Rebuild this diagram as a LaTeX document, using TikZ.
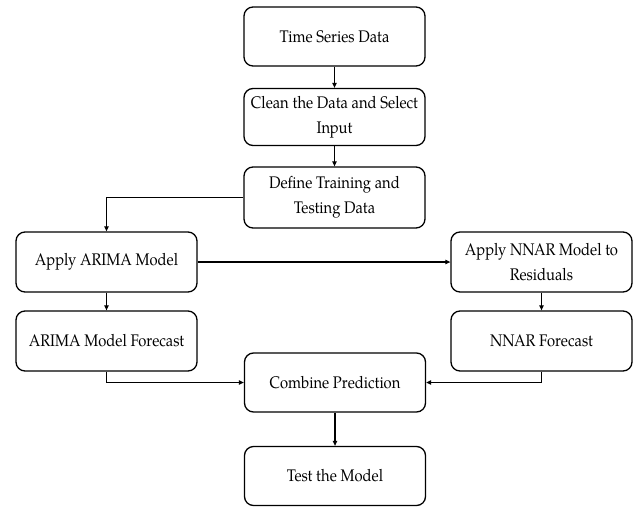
\documentclass[tikz,border=0pt]{standalone}
\usepackage{fontspec}
\setmainfont{TeX Gyre Pagella}
\usetikzlibrary{arrows.meta}
\tikzset{
  box/.style={draw, line width=1.3pt, rounded corners=9pt, minimum width=181pt, minimum height=59pt, align=center, inner sep=2pt, font=\fontsize{16.8}{25}\selectfont},
  conn/.style={line width=1.1pt, -{Triangle[length=5pt,width=4.5pt]}}
}
\newcommand{\sq}[1]{\scalebox{0.88}[1]{#1}}
\begin{document}
\begin{tikzpicture}[x=1pt,y=-1pt]
\useasboundingbox (0,0) rectangle (638,507);
\node[box] (ts) at (334.5,36.5) {\sq{Time Series Data}};
\node[box, minimum height=57pt] (clean) at (334.5,117) {\sq{Clean the Data and Select}\\\sq{Input}};
\node[box, minimum height=61pt] (def) at (334.5,197.5) {\sq{Define Training and}\\\sq{Testing Data}};
\node[box, minimum height=60pt] (arima) at (106.5,262) {\sq{Apply ARIMA Model}};
\node[box, minimum height=60pt] (nnar) at (541.5,262) {\sq{Apply NNAR Model to}\\\sq{Residuals}};
\node[box, minimum height=60pt] (arimaf) at (106.5,341) {\sq{ARIMA Model Forecast}};
\node[box, minimum height=60pt] (nnarf) at (541.5,341) {\sq{NNAR Forecast}};
\node[box] (comb) at (335,382.5) {\sq{Combine Prediction}};
\node[box] (test) at (335,476) {\sq{Test the Model}};
\draw[conn] (ts) -- (clean);
\draw[conn] (clean) -- (def);
\draw[conn] (def.west) -| (arima.north);
\draw[conn] (arima.east) -- (nnar.west);
\draw[conn] (arima) -- (arimaf);
\draw[conn] (nnar) -- (nnarf);
\draw[conn] (arimaf.south) |- (comb.west);
\draw[conn] (nnarf.south) |- (comb.east);
\draw[conn] (comb) -- (test);
\end{tikzpicture}
\end{document}
